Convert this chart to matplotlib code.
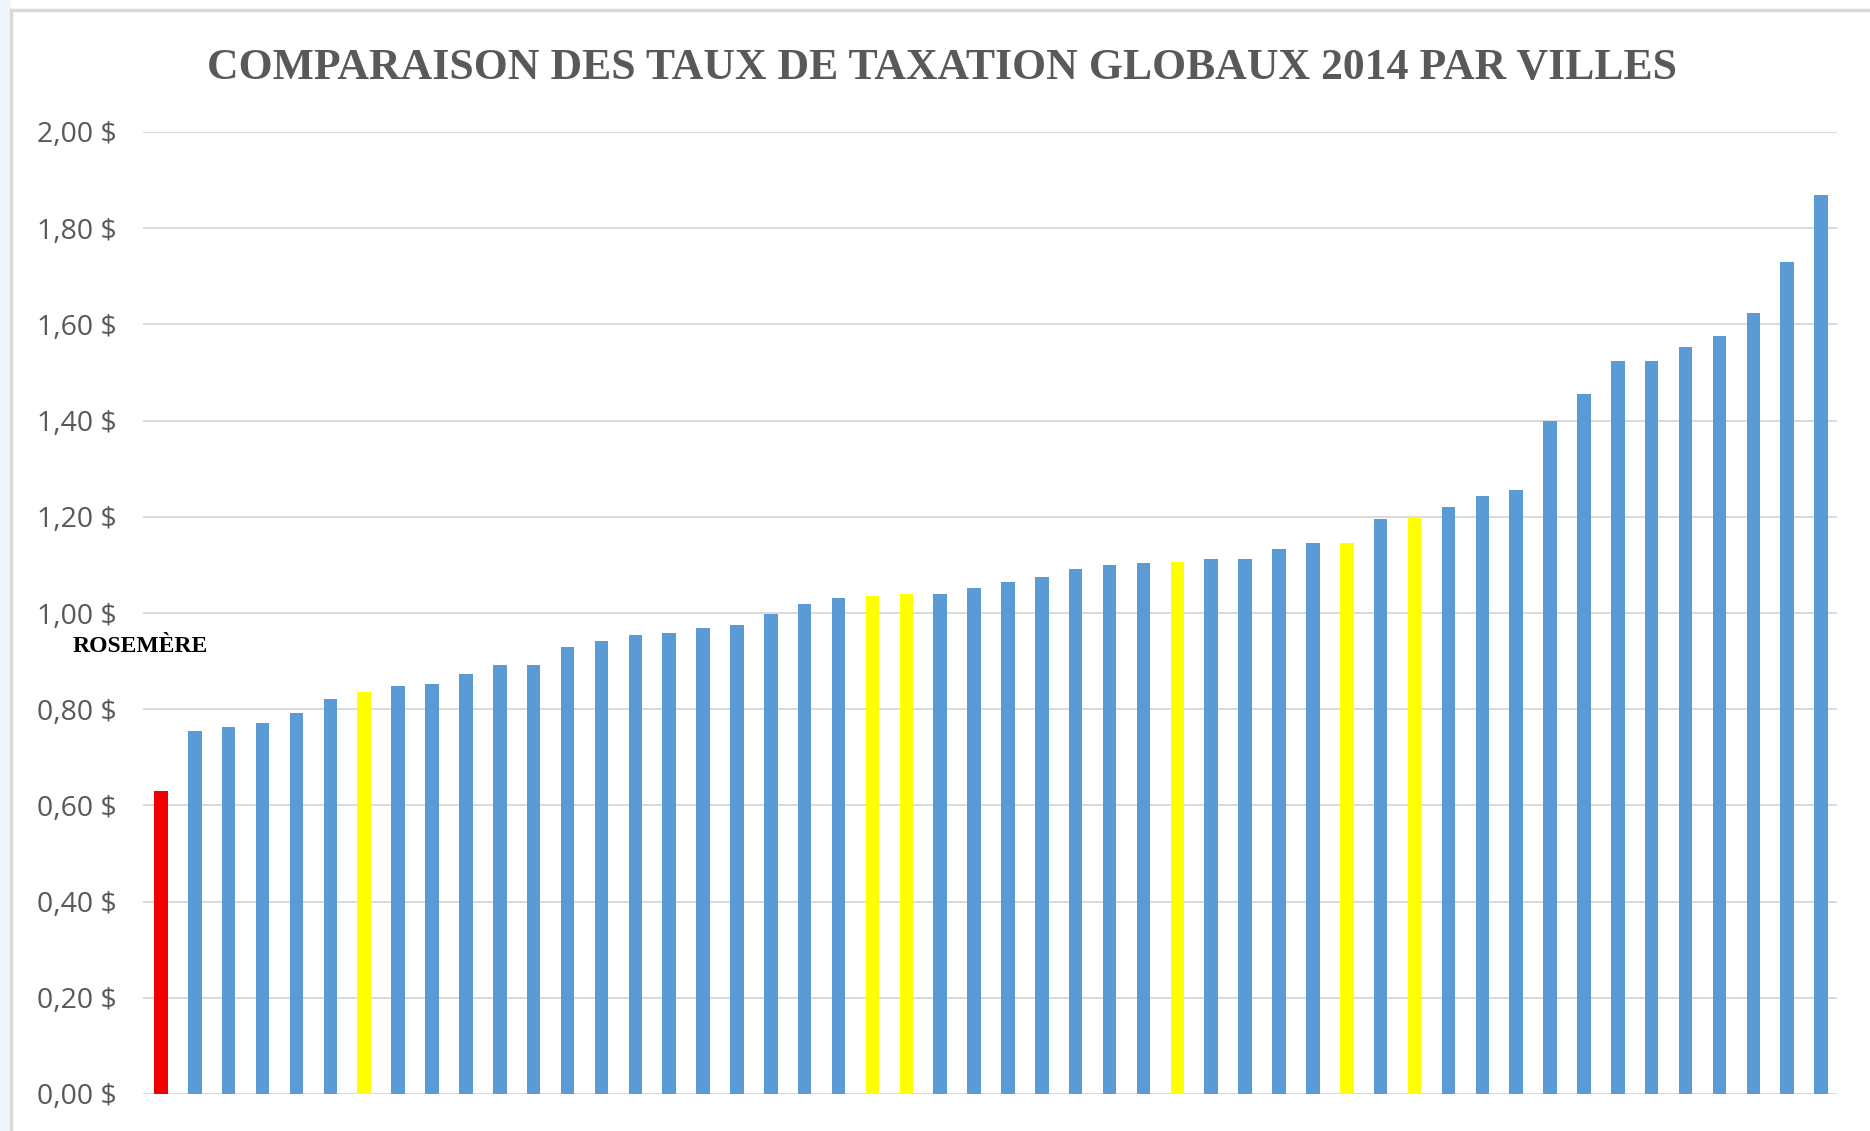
import matplotlib

matplotlib.use("Agg")
import matplotlib.pyplot as plt
from matplotlib.patches import Rectangle


TITLE = "COMPARAISON DES TAUX DE TAXATION GLOBAUX 2014 PAR VILLES"
HIGHLIGHT_LABEL = "ROSEMÈRE"

# taux global par ville, trié croissant (Rosemère en premier)
rates = [
    0.63, 0.755, 0.762, 0.772, 0.793, 0.822, 0.835, 0.848, 0.852, 0.873,
    0.891, 0.891, 0.929, 0.942, 0.955, 0.958, 0.968, 0.976, 0.997, 1.019,
    1.031, 1.036, 1.040, 1.040, 1.053, 1.065, 1.074, 1.091, 1.100, 1.104,
    1.107, 1.112, 1.112, 1.133, 1.146, 1.146, 1.196, 1.200, 1.221, 1.243,
    1.256, 1.400, 1.455, 1.524, 1.524, 1.554, 1.575, 1.623, 1.729, 1.869,
]
# r = Rosemère, y = villes comparables, b = autres
kinds = list("rbbbbbybbbbbbbbbbbbbbyybbbbbbbybbbbybybbbbbbbbbbbb")

y_ticks = [0.0, 0.2, 0.4, 0.6, 0.8, 1.0, 1.2, 1.4, 1.6, 1.8, 2.0]

BLUE = "#5b9bd5"
YELLOW = "#ffff00"
RED = "#f00000"
GRID = "#d9d9d9"
TEXT = "#595959"

COLORS = {"r": RED, "y": YELLOW, "b": BLUE}


def money(v):
    return f"{v:.2f}".replace(".", ",") + " $"


def main():
    fig = plt.figure(figsize=(18.7, 11.31), dpi=100)
    fig.patch.set_facecolor("white")

    # bande bleutée à gauche + cadre du graphique
    fig.add_artist(Rectangle((0, 0), 11 / 1870, 1, transform=fig.transFigure,
                             facecolor="#eef5fb", edgecolor="none"))
    fig.add_artist(Rectangle((11 / 1870, -0.01), 1.0, 1 - 10 / 1131 + 0.01,
                             transform=fig.transFigure, facecolor="none",
                             edgecolor=GRID, linewidth=2.5))

    ax = fig.add_axes([143 / 1870, 1 - 1094 / 1131, (1837 - 143) / 1870, (1094 - 132) / 1131])
    ax.set_facecolor("white")

    x = range(len(rates))
    ax.bar(x, rates, width=0.4, color=[COLORS[k] for k in kinds], zorder=3)

    ax.set_xlim(-0.53, len(rates) - 0.53)
    ax.set_ylim(0, 2.0)
    ax.set_yticks(y_ticks)
    ax.set_yticklabels([money(v) for v in y_ticks], fontsize=20.5,
                       color=TEXT, family="Open Sans")
    ax.tick_params(axis="y", length=0, pad=19)
    ax.set_xticks([])
    ax.grid(True, axis="y", color=GRID, linewidth=1.4, zorder=0)
    for spine in ax.spines.values():
        spine.set_visible(False)

    fig.text(942 / 1870, 1 - 68 / 1131, TITLE, ha="center", va="center",
             fontsize=31.5, fontweight="bold", color=TEXT, family="Liberation Serif")
    fig.text(73 / 1870, 1 - 647 / 1131, HIGHLIGHT_LABEL, ha="left", va="center",
             fontsize=17, fontweight="bold", color="black", family="Liberation Serif")

    fig.savefig("out.png", dpi=100, facecolor="white")
    plt.close(fig)


if __name__ == "__main__":
    main()
